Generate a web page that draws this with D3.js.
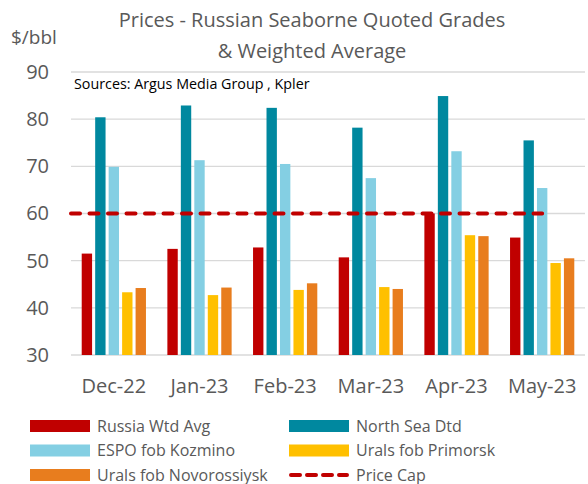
<!DOCTYPE html>
<html>
<head>
<meta charset="utf-8">
<script src="https://cdn.jsdelivr.net/npm/d3@7"></script>
<style>
  body { margin: 0; background: #fff; }
  text { font-family: "Open Sans", "Noto Sans", sans-serif; }
</style>
</head>
<body>
<div id="chart"></div>
<script>
var months = ["Dec-22", "Jan-23", "Feb-23", "Mar-23", "Apr-23", "May-23"];
var seriesNames = ["Russia Wtd Avg", "North Sea Dtd", "ESPO fob Kozmino", "Urals fob Primorsk", "Urals fob Novorossiysk"];
var russiaWtdAvg = [51.5, 52.5, 52.8, 50.7, 60.0, 54.9];
var northSeaDtd = [80.4, 82.9, 82.4, 78.2, 84.9, 75.5];
var espoKozmino = [69.9, 71.3, 70.5, 67.5, 73.2, 65.4];
var uralsPrimorsk = [43.3, 42.7, 43.8, 44.4, 55.4, 49.5];
var uralsNovorossiysk = [44.2, 44.3, 45.2, 44.0, 55.2, 50.5];
var priceCap = [60, 60, 60, 60, 60, 60];
var yTicks = [30, 40, 50, 60, 70, 80, 90];
var colors = ["#C00000", "#00889F", "#84CFE3", "#FFC000", "#E87D1E"];

function init() {
    var w = 588, h = 484;
    var left = 71, right = 585, top = 72, bottom = 355;

    var svg = d3.select("#chart").append("svg")
        .attr("width", w)
        .attr("height", h);

    var allSeries = [russiaWtdAvg, northSeaDtd, espoKozmino, uralsPrimorsk, uralsNovorossiysk];

    var x0 = d3.scaleBand().domain(months).range([left, right])
        .paddingInner(0.25).paddingOuter(0.125);
    var x1 = d3.scaleBand().domain(seriesNames).range([0, x0.bandwidth()])
        .paddingInner(0.23);
    var y = d3.scaleLinear().domain([30, 90]).range([bottom, top]);

    // gridlines
    svg.append("g").selectAll("line").data(yTicks).enter().append("line")
        .attr("x1", left).attr("x2", right)
        .attr("y1", function(d) { return y(d); })
        .attr("y2", function(d) { return y(d); })
        .attr("stroke", "#d9d9d9").attr("stroke-width", 1.3);

    // y axis labels
    var yAxis = d3.axisLeft(y).tickValues(yTicks).tickSize(0).tickPadding(22);
    var ga = svg.append("g").attr("transform", "translate(" + left + ",0)").call(yAxis);
    ga.select(".domain").remove();
    ga.selectAll("text").attr("font-size", 20).attr("fill", "#595959")
        .style("font-family", "'Open Sans', sans-serif");

    // bars
    var groups = svg.append("g").selectAll("g").data(months).enter().append("g")
        .attr("transform", function(d) { return "translate(" + x0(d) + ",0)"; });
    groups.selectAll("rect")
        .data(function(m, i) {
            return seriesNames.map(function(s, j) { return { s: s, v: allSeries[j][i], c: colors[j] }; });
        })
        .enter().append("rect")
        .attr("x", function(d) { return x1(d.s); })
        .attr("width", x1.bandwidth())
        .attr("y", function(d) { return y(d.v); })
        .attr("height", function(d) { return bottom - y(d.v); })
        .attr("fill", function(d) { return d.c; });

    // price cap line
    var line = d3.line()
        .x(function(d, i) { return i === 0 ? left : x0(months[i]) + x0.bandwidth() / 2; })
        .y(function(d) { return y(d); });
    svg.append("path").datum(priceCap)
        .attr("d", line)
        .attr("fill", "none")
        .attr("stroke", "#C00000")
        .attr("stroke-width", 4)
        .attr("stroke-dasharray", "9,9.5")
        .attr("stroke-linecap", "round");

    // x axis labels
    var xAxis = d3.axisBottom(x0).tickSize(0).tickPadding(24);
    var gx = svg.append("g").attr("transform", "translate(0," + bottom + ")").call(xAxis);
    gx.select(".domain").remove();
    gx.selectAll("text").attr("font-size", 20).attr("fill", "#595959")
        .style("font-family", "'Open Sans', sans-serif");

    // titles
    svg.append("text").attr("x", 312).attr("y", 27).attr("text-anchor", "middle")
        .attr("font-size", 20).attr("fill", "#595959")
        .text("Prices - Russian Seaborne Quoted Grades");
    svg.append("text").attr("x", 312).attr("y", 58).attr("text-anchor", "middle")
        .attr("font-size", 20).attr("fill", "#595959")
        .text("& Weighted Average");
    svg.append("text").attr("x", 11).attr("y", 44)
        .attr("font-size", 19).attr("fill", "#595959")
        .text("$/bbl");
    svg.append("text").attr("x", 74).attr("y", 89)
        .attr("font-size", 14.3).attr("fill", "#000")
        .text("Sources: Argus Media Group , Kpler");

    // legend
    var legendItems = seriesNames.map(function(s, i) { return { name: s, color: colors[i], dash: false }; });
    legendItems.push({ name: "Price Cap", color: "#C00000", dash: true });
    var lg = svg.append("g").selectAll("g").data(legendItems).enter().append("g")
        .attr("transform", function(d, i) {
            return "translate(" + (i % 2 === 0 ? 30 : 289) + "," + (426 + Math.floor(i / 2) * 24.5) + ")";
        });
    lg.filter(function(d) { return !d.dash; }).append("rect")
        .attr("x", 0).attr("y", -6).attr("width", 60).attr("height", 12)
        .attr("fill", function(d) { return d.color; });
    lg.filter(function(d) { return d.dash; }).append("line")
        .attr("x1", 2).attr("x2", 58).attr("y1", 0).attr("y2", 0)
        .attr("stroke", "#C00000").attr("stroke-width", 4)
        .attr("stroke-dasharray", "9,7").attr("stroke-linecap", "round");
    lg.append("text").attr("x", 67).attr("y", 0).attr("dy", "0.35em")
        .attr("font-size", 16).attr("fill", "#595959")
        .text(function(d) { return d.name; });
}

window.onload = init;
</script>
</body>
</html>
